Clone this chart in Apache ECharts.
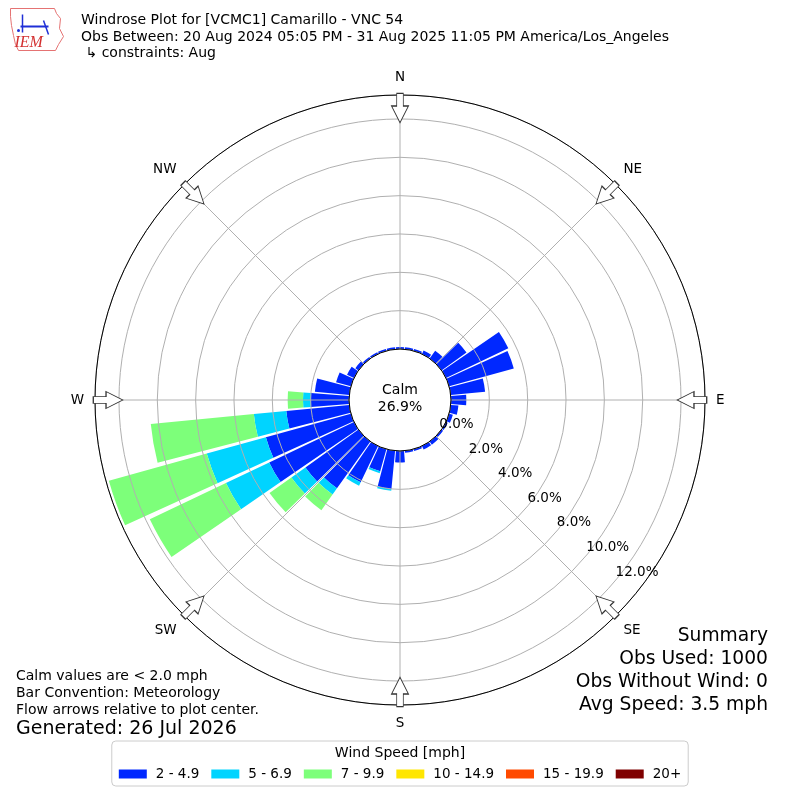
<!DOCTYPE html>
<html>
<head>
<meta charset="utf-8">
<title>Windrose VCMC1</title>
<script src="https://cdn.jsdelivr.net/npm/echarts@6.0.0/dist/echarts.min.js"></script>
<style>
  html, body { margin: 0; padding: 0; background: #fff; }
  #chart { width: 800px; height: 800px; }
</style>
</head>
<body>
<div id="chart"></div>
<script>
// direction bins (degrees, meteorological convention)
const directions = ['0', '10', '20', '30', '40', '50', '60', '70', '80', '90', '100', '110',
  '120', '130', '140', '150', '160', '170', '180', '190', '200', '210', '220', '230',
  '240', '250', '260', '270', '280', '290', '300', '310', '320', '330', '340', '350'];

const speedBins = ['2 - 4.9', '5 - 6.9', '7 - 9.9', '10 - 14.9', '15 - 19.9', '20+'];

// percent of obs per direction, one array per speed bin
const speed2to5 = [0.1, 0.1, 0.1, 0.2, 0.5, 1.6, 3.6, 3.5, 1.8, 0.8, 0.4, 0.2,
  0.1, 0.1, 0.2, 0.2, 0.1, 0.1, 0.6, 2.0, 1.2, 2.1, 3.0, 3.4,
  4.9, 4.6, 3.3, 2.0, 1.8, 0.8, 0.4, 0.2, 0.1, 0.1, 0.1, 0.1];
const speed5to7 = [0, 0, 0, 0, 0, 0, 0, 0, 0, 0, 0, 0,
  0, 0, 0, 0, 0, 0, 0, 0.1, 0.1, 0.2, 0.4, 0.9,
  2.5, 3.2, 1.7, 0.4, 0, 0, 0, 0, 0, 0, 0, 0];
const speed7to10 = [0, 0, 0, 0, 0, 0, 0, 0, 0, 0, 0, 0,
  0, 0, 0, 0, 0, 0, 0, 0, 0, 0, 1.0, 1.4,
  4.4, 5.3, 5.4, 0.8, 0, 0, 0, 0, 0, 0, 0, 0];
const speed10to15 = [0, 0, 0, 0, 0, 0, 0, 0, 0, 0, 0, 0,
  0, 0, 0, 0, 0, 0, 0, 0, 0, 0, 0, 0,
  0, 0, 0, 0, 0, 0, 0, 0, 0, 0, 0, 0];
const speed15to20 = [0, 0, 0, 0, 0, 0, 0, 0, 0, 0, 0, 0,
  0, 0, 0, 0, 0, 0, 0, 0, 0, 0, 0, 0,
  0, 0, 0, 0, 0, 0, 0, 0, 0, 0, 0, 0];
const speed20plus = [0, 0, 0, 0, 0, 0, 0, 0, 0, 0, 0, 0,
  0, 0, 0, 0, 0, 0, 0, 0, 0, 0, 0, 0,
  0, 0, 0, 0, 0, 0, 0, 0, 0, 0, 0, 0];

const calmPct = 26.9;
const compassNames = ['N', 'NE', 'E', 'SE', 'S', 'SW', 'W', 'NW'];
const compassAngles = [0, 45, 90, 135, 180, 225, 270, 315];

const binColors = ['#0028ff', '#00d4ff', '#7dff7a', '#ffe600', '#ff4a00', '#7f0000'];
const binData = [speed2to5, speed5to7, speed7to10, speed10to15, speed15to20, speed20plus];

const FONT = 'DejaVu Sans';
const rMax = 13.25;      // outer ring
const arrowR = 12.57;    // where the flow arrows sit
const CENTER = [400, 400];
const RADIUS = [51, 305];

function txt(text, x, y, size, align, valign, lineHeight, z) {
  return {
    type: 'text',
    silent: true,
    z: z || 20,
    style: {
      text: text, x: x, y: y,
      fontSize: size, fontFamily: FONT, fill: '#000',
      lineHeight: lineHeight || Math.round(size * 1.2),
      align: align, verticalAlign: valign,
      textAlign: align, textVerticalAlign: valign
    }
  };
}

const barSeries = speedBins.map((name, i) => ({
  type: 'bar',
  name: name,
  coordinateSystem: 'polar',
  polarIndex: 0,
  stack: 'wind',
  data: binData[i],
  barCategoryGap: '10%',
  itemStyle: { color: binColors[i] },
  silent: true,
  z: 2
}));

const arrowSeries = {
  type: 'scatter',
  coordinateSystem: 'polar',
  polarIndex: 1,
  symbol: 'path://M52,0 L118,0 L118,127 L170,127 L85,294 L0,127 L52,127 Z',
  symbolSize: [17, 29.5],
  itemStyle: { color: '#ffffff', borderColor: '#333333', borderWidth: 1, opacity: 1 },
  data: compassAngles.map(a => ({ value: [arrowR, a], symbolRotate: -a })),
  silent: true,
  z: 10
};

const option = {
  animation: false,
  backgroundColor: '#fff',
  textStyle: { fontFamily: FONT },
  polar: [
    { center: CENTER, radius: RADIUS },
    { center: CENTER, radius: RADIUS },
    // label-only polar, nudged so the % labels sit where the original puts them
    { center: [CENTER[0] - 4.2, CENTER[1] - 3], radius: RADIUS }
  ],
  angleAxis: [
    { polarIndex: 0, type: 'category', data: directions, startAngle: 95, clockwise: true, show: false },
    {
      polarIndex: 1, type: 'value', min: 0, max: 360, interval: 45, startAngle: 90, clockwise: true, z: 4,
      axisLine: { show: true, lineStyle: { color: '#000', width: 1 } },
      axisTick: { show: false },
      axisLabel: {
        show: true, margin: 11, color: '#000', fontSize: 13.5, fontFamily: FONT,
        formatter: v => { const k = compassAngles.indexOf(v); return k >= 0 ? compassNames[k] : ''; }
      },
      splitLine: { show: true, lineStyle: { color: '#b0b0b0', width: 1 } }
    },
    {
      polarIndex: 2, type: 'value', min: 0, max: 360, startAngle: -40, clockwise: true,
      axisLine: { show: false }, axisTick: { show: false }, axisLabel: { show: false }, splitLine: { show: false }
    }
  ],
  radiusAxis: [
    { polarIndex: 0, type: 'value', min: 0, max: rMax, show: false },
    {
      polarIndex: 1, type: 'value', min: 0, max: rMax, interval: 2, z: 3,
      axisLine: { show: false }, axisTick: { show: false }, axisLabel: { show: false },
      splitLine: { show: true, lineStyle: { color: '#b0b0b0', width: 1 } }
    },
    {
      polarIndex: 2, type: 'value', min: 0, max: rMax, interval: 2, z: 5,
      axisLine: { show: false }, axisTick: { show: false }, splitLine: { show: false },
      axisLabel: {
        show: true, margin: 7, color: '#000', fontSize: 13.5, fontFamily: FONT,
        formatter: v => (Math.abs(v / 2 - Math.round(v / 2)) < 1e-6 ? v.toFixed(1) + '%' : '')
      }
    }
  ],
  legend: {
    data: speedBins,
    top: 741, left: 'center', orient: 'horizontal',
    icon: 'rect', itemWidth: 28, itemHeight: 9, itemGap: 12,
    padding: [26, 7, 5, 7],
    borderColor: '#cccccc', borderWidth: 1, borderRadius: 4,
    selectedMode: false,
    textStyle: { fontSize: 13.5, color: '#000', fontFamily: FONT, padding: [0, 0, 0, 4] }
  },
  series: barSeries.concat([arrowSeries]),
  graphic: [
    // header
    txt('Windrose Plot for [VCMC1] Camarillo - VNC 54\nObs Between: 20 Aug 2024 05:05 PM - 31 Aug 2025 11:05 PM America/Los_Angeles\n ↳ constraints: Aug',
      81, 12.3, 14, 'left', 'top', 16.5),
    // calm
    txt('Calm\n' + calmPct.toFixed(1) + '%', 400, 398.5, 14, 'center', 'middle', 17),
    // notes
    txt('Calm values are < 2.0 mph\nBar Convention: Meteorology\nFlow arrows relative to plot center.',
      16, 668.5, 14, 'left', 'top', 16.6),
    txt('Generated: 26 Jul 2026', 16, 729, 19, 'left', 'middle', 22),
    // summary
    txt('Summary\nObs Used: 1000\nObs Without Wind: 0\nAvg Speed: 3.5 mph',
      768, 624, 18.7, 'right', 'top', 23.3),
    // legend title
    txt('Wind Speed [mph]', 400, 753, 14, 'center', 'middle', 17),
    // IEM logo
    {
      type: 'group', left: 8, top: 6, silent: true,
      children: [
        { type: 'polyline', shape: { points: [[2, 2], [46, 2], [48, 7], [52, 12], [51, 22], [55, 30], [50, 38], [47, 44], [10, 44], [7, 38], [5, 29], [3, 19], [2, 10], [2, 2]] },
          style: { stroke: '#e57373', lineWidth: 1, fill: 'none' } },
        { type: 'line', shape: { x1: 12, y1: 20, x2: 40, y2: 20 }, style: { stroke: '#1f2fd6', lineWidth: 2 } },
        { type: 'line', shape: { x1: 14, y1: 8, x2: 14, y2: 26 }, style: { stroke: '#1f2fd6', lineWidth: 1.5 } },
        { type: 'line', shape: { x1: 35, y1: 14, x2: 40, y2: 28 }, style: { stroke: '#1f2fd6', lineWidth: 1.5 } },
        { type: 'circle', shape: { cx: 10, cy: 24, r: 1.5 }, style: { fill: '#1f2fd6' } },
        { type: 'text', style: { text: 'IEM', x: 6, y: 28, fontSize: 16, fontStyle: 'italic', fontFamily: 'Liberation Serif', fill: '#d32f2f' } }
      ]
    }
  ]
};

const chart = echarts.init(document.getElementById('chart'), null, { renderer: 'canvas' });
chart.setOption(option, true);
</script>
</body>
</html>
